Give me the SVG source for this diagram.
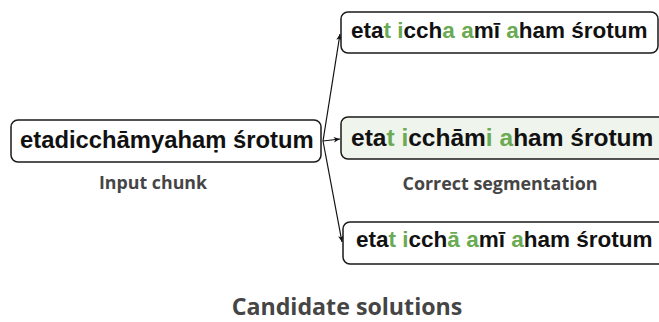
<svg xmlns="http://www.w3.org/2000/svg" width="659" height="322" viewBox="0 0 659 322">
<defs>
<marker id="arr" viewBox="0 0 10 10" refX="9" refY="5" markerWidth="7" markerHeight="7" markerUnits="userSpaceOnUse" orient="auto">
<path d="M0,1 L9,5 L0,9 L2.5,5 Z" fill="#111"/>
</marker>
</defs>
<style>
.box{fill:#fff;stroke:#1a1a1a;stroke-width:1.5}
.sel{fill:#eff4ec}
.t{font-family:"Liberation Sans",Arial,sans-serif;font-weight:bold;fill:#111}
.g{fill:#6aaa52}
.lbl{font-family:"Open Sans","Noto Sans",sans-serif;font-weight:bold;fill:#454545;text-anchor:middle}
.edge{stroke:#111;stroke-width:1.2;fill:none;marker-end:url(#arr)}
</style>
<rect width="659" height="322" fill="#fff"/>
<g id="connectors">
<line class="edge" x1="323" y1="141" x2="340" y2="34"/>
<line class="edge" x1="323" y1="141" x2="340" y2="139"/>
<line class="edge" x1="323" y1="141" x2="342" y2="242"/>
</g>
<g id="input">
<rect class="box" x="11" y="120" width="310" height="42" rx="7"/>
<text class="t" x="20" y="148" font-size="23.8">etadicchāmyahaṃ śrotum</text>
<text class="lbl" x="153" y="189" font-size="17.8">Input chunk</text>
</g>
<g id="cand1">
<rect class="box" x="341" y="12" width="317" height="41" rx="7"/>
<text class="t" x="351" y="38" font-size="22.5">eta<tspan class="g">t</tspan> <tspan class="g">i</tspan>cch<tspan class="g">a</tspan> <tspan class="g">a</tspan>mī <tspan class="g">a</tspan>ham śrotum</text>
</g>
<g id="cand2">
<rect class="box sel" x="341" y="117" width="330" height="42" rx="7"/>
<text class="t" x="351" y="146" font-size="24.5">eta<tspan class="g">t</tspan> <tspan class="g">i</tspan>cchām<tspan class="g">i</tspan> <tspan class="g">a</tspan>ham śrotum</text>
<text class="lbl" x="500" y="190" font-size="17.9">Correct segmentation</text>
</g>
<g id="cand3">
<rect class="box" x="343" y="222" width="330" height="42" rx="7"/>
<text class="t" x="356" y="247" font-size="22.5">eta<tspan class="g">t</tspan> <tspan class="g">i</tspan>cch<tspan class="g">ā</tspan> <tspan class="g">a</tspan>mī <tspan class="g">a</tspan>ham śrotum</text>
</g>
<g id="caption">
<text class="lbl" x="347" y="315" font-size="23.2">Candidate solutions</text>
</g>
</svg>
